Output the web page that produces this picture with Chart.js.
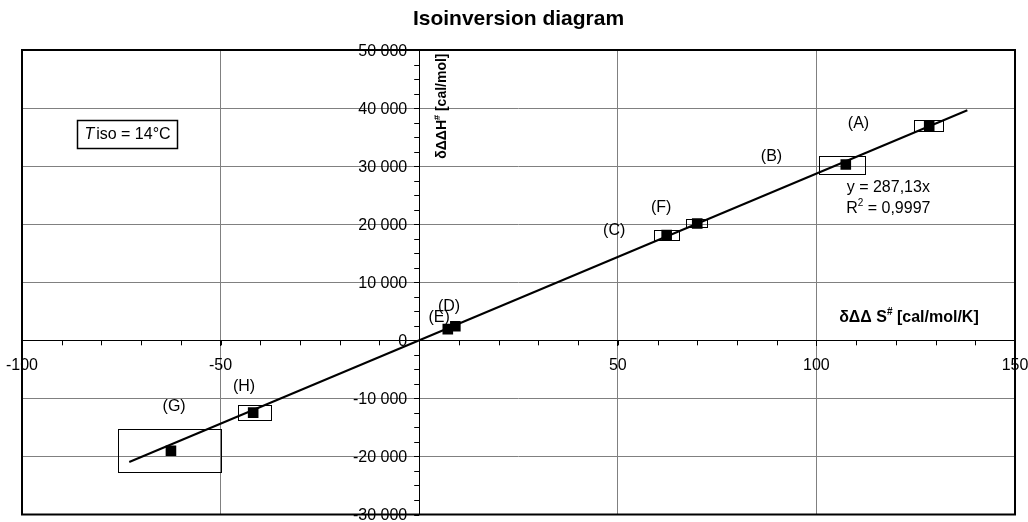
<!DOCTYPE html>
<html>
<head>
<meta charset="utf-8">
<script src="https://cdn.jsdelivr.net/npm/chart.js@4.4.1/dist/chart.umd.min.js"></script>
<style>
  html, body { margin: 0; padding: 0; background: #fff; }
  #wrap { width: 1028px; height: 522px; position: relative; }
</style>
</head>
<body>
<div id="wrap"><canvas id="isoChart"></canvas></div>
<script>
// measured points (dS, dH) with their error boxes
const pointNames = ['(A)', '(B)', '(C)', '(D)', '(E)', '(F)', '(G)', '(H)'];
const dS = [128.4, 107.4, 62.3, 9.1, 7.2, 70.0, -62.5, -41.8];
const dH = [36900, 30280, 18120, 2420, 1930, 20130, -19020, -12450];
const dSLow  = [124.5, 100.6, 59.1, null, null, 67.2, -75.8, -45.6];
const dSHigh = [131.7, 112.1, 65.5, null, null, 72.5, -49.8, -37.2];
const dHLow  = [35950, 28660, 17230, null, null, 19400, -22640, -13700];
const dHHigh = [37930, 31780, 18990, null, null, 20810, -15230, -11140];

// linear trend y = 287,13x (end points)
const trendX = [-73, 138];
const trendY = [-20960, 39620];

const xTicks = [-100, -50, 0, 50, 100, 150];
const yTicks = [-30000, -20000, -10000, 0, 10000, 20000, 30000, 40000, 50000];

// where the point names sit (in data units)
const nameX = [110.6, 88.7, 49.1, 7.5, 5.0, 60.9, -61.7, -44.1];
const nameY = [37360, 31560, 18940, 5800, 3840, 22860, -11430, -8020];

const FONT = '"Liberation Sans", Arial, sans-serif';

function fmtThousands(v) {
    var s = Math.abs(v).toString();
    if (s.length > 3) s = s.slice(0, -3) + ' ' + s.slice(-3);
    return (v < 0 ? '-' : '') + s;
}

// text with a small raised part in the middle: [before, sup, after]
function drawSupText(ctx, parts, x, y, font, supFont) {
    ctx.font = font;
    var w0 = ctx.measureText(parts[0]).width;
    var w2 = ctx.measureText(parts[2]).width;
    ctx.font = supFont;
    var w1 = ctx.measureText(parts[1]).width;
    var start = x - (w0 + w1 + w2) / 2;
    ctx.textAlign = 'left';
    ctx.textBaseline = 'middle';
    ctx.font = font;
    ctx.fillText(parts[0], start, y);
    ctx.font = supFont;
    ctx.fillText(parts[1], start + w0, y - 5);
    ctx.font = font;
    ctx.fillText(parts[2], start + w0 + w1, y);
}

const extras = {
    id: 'extras',
    beforeDatasetsDraw(chart) {
        const ctx = chart.ctx;
        const xs = chart.scales.x, ys = chart.scales.y;
        ctx.save();
        // error boxes
        ctx.strokeStyle = '#000';
        ctx.lineWidth = 1;
        for (let i = 0; i < dS.length; i++) {
            if (dSLow[i] === null) continue;
            const x1 = xs.getPixelForValue(dSLow[i]), x2 = xs.getPixelForValue(dSHigh[i]);
            const y1 = ys.getPixelForValue(dHHigh[i]), y2 = ys.getPixelForValue(dHLow[i]);
            ctx.strokeRect(Math.round(x1) + 0.5, Math.round(y1) + 0.5, Math.round(x2 - x1), Math.round(y2 - y1));
        }
        // minor ticks on the axes
        const x0 = xs.getPixelForValue(0), y0 = ys.getPixelForValue(0);
        ctx.beginPath();
        for (let v = -100; v <= 150; v += 10) {
            const px = Math.round(xs.getPixelForValue(v)) + 0.5;
            ctx.moveTo(px, y0);
            ctx.lineTo(px, y0 + 5);
        }
        for (let v = -30000; v <= 50000; v += 2500) {
            const py = Math.round(ys.getPixelForValue(v)) + 0.5;
            ctx.moveTo(x0 - 5, py);
            ctx.lineTo(x0, py);
        }
        ctx.stroke();
        ctx.restore();
    },
    afterDraw(chart) {
        const ctx = chart.ctx;
        const a = chart.chartArea;
        const xs = chart.scales.x, ys = chart.scales.y;
        ctx.save();

        // y tick labels, left of the y axis
        const x0 = xs.getPixelForValue(0);
        ctx.fillStyle = '#000';
        ctx.font = '16px ' + FONT;
        ctx.textAlign = 'right';
        ctx.textBaseline = 'middle';
        ys.ticks.forEach(function(t) {
            ctx.fillText(fmtThousands(t.value), x0 - 12, ys.getPixelForValue(t.value) + 1.5);
        });

        // frame
        ctx.strokeStyle = '#000';
        ctx.lineWidth = 2;
        ctx.strokeRect(a.left, a.top, a.right - a.left, a.bottom - a.top);

        ctx.textAlign = 'center';
        ctx.textBaseline = 'middle';
        ctx.font = '16px ' + FONT;
        for (let i = 0; i < pointNames.length; i++) {
            ctx.fillText(pointNames[i], xs.getPixelForValue(nameX[i]), ys.getPixelForValue(nameY[i]));
        }

        // regression text
        ctx.fillText('y = 287,13x', xs.getPixelForValue(118.1), ys.getPixelForValue(26270));
        drawSupText(ctx, ['R', '2', ' = 0,9997'], xs.getPixelForValue(118.1), ys.getPixelForValue(22690),
            '16px ' + FONT, '10px ' + FONT);

        // axis titles
        drawSupText(ctx, ['δΔΔ S', '#', ' [cal/mol/K]'], xs.getPixelForValue(123.3), ys.getPixelForValue(3930),
            'bold 16px ' + FONT, 'bold 10px ' + FONT);
        ctx.save();
        ctx.translate(xs.getPixelForValue(5.8), ys.getPixelForValue(40340));
        ctx.rotate(-Math.PI / 2);
        drawSupText(ctx, ['δΔΔH', '#', ' [cal/mol]'], 0, 0, 'bold 14px ' + FONT, 'bold 9px ' + FONT);
        ctx.restore();

        // T iso box
        ctx.lineWidth = 1.5;
        ctx.strokeRect(77.5, 120.5, 100, 28);
        ctx.textBaseline = 'middle';
        ctx.textAlign = 'left';
        ctx.font = 'italic 16px ' + FONT;
        const wT = ctx.measureText('T').width;
        ctx.font = '16px ' + FONT;
        const rest = 'iso = 14°C';
        const wR = ctx.measureText(rest).width;
        const sx = 127.5 - (wT + 2 + wR) / 2;
        ctx.font = 'italic 16px ' + FONT;
        ctx.fillText('T', sx, 135);
        ctx.font = '16px ' + FONT;
        ctx.fillText(rest, sx + wT + 2, 135);
        ctx.restore();
    }
};

const pts = dS.map(function(v, i) { return { x: v, y: dH[i] }; });
const trend = trendX.map(function(v, i) { return { x: v, y: trendY[i] }; });

const chart = new Chart(document.getElementById('isoChart'), {
    type: 'scatter',
    data: {
        datasets: [
            {
                label: 'points',
                data: pts,
                pointStyle: 'rect',
                pointRadius: 7.5,
                pointHoverRadius: 7.5,
                backgroundColor: '#000',
                borderColor: '#000',
                borderWidth: 0,
                order: 0
            },
            {
                label: 'trend',
                data: trend,
                showLine: true,
                pointRadius: 0,
                borderColor: '#000',
                borderWidth: 2,
                order: 1
            }
        ]
    },
    options: {
        responsive: true,
        maintainAspectRatio: false,
        animation: false,
        layout: { padding: { left: 22, right: 13, top: 0, bottom: 3 } },
        plugins: {
            legend: { display: false },
            tooltip: { enabled: false },
            title: {
                display: true,
                text: 'Isoinversion diagram',
                color: '#000',
                font: { family: FONT, size: 21, weight: 'bold' },
                padding: { top: 7, bottom: 17.8 }
            }
        },
        scales: {
            x: {
                type: 'linear',
                position: { y: 0 },
                min: -100,
                max: 150,
                afterBuildTicks: function(scale) { scale.ticks = xTicks.map(function(v) { return { value: v }; }); },
                afterFit: function(scale) { scale.paddingLeft = 0; scale.paddingRight = 0; scale.paddingTop = 0; scale.paddingBottom = 0; },
                ticks: {
                    color: '#000',
                    font: { family: FONT, size: 16 },
                    padding: 11,
                    maxRotation: 0,
                    callback: function(v) { return v === 0 ? '' : v; }
                },
                grid: { color: '#808080', tickColor: '#000', tickLength: 5 },
                border: { color: '#000', width: 1 }
            },
            y: {
                type: 'linear',
                position: { x: 0 },
                min: -30000,
                max: 50000,
                afterBuildTicks: function(scale) { scale.ticks = yTicks.map(function(v) { return { value: v }; }); },
                afterFit: function(scale) { scale.paddingLeft = 0; scale.paddingRight = 0; scale.paddingTop = 0; scale.paddingBottom = 0; },
                ticks: { display: false },
                grid: { color: '#808080', tickColor: '#000', tickLength: 5 },
                border: { color: '#000', width: 1 }
            }
        }
    },
    plugins: [extras]
});
</script>
</body>
</html>
